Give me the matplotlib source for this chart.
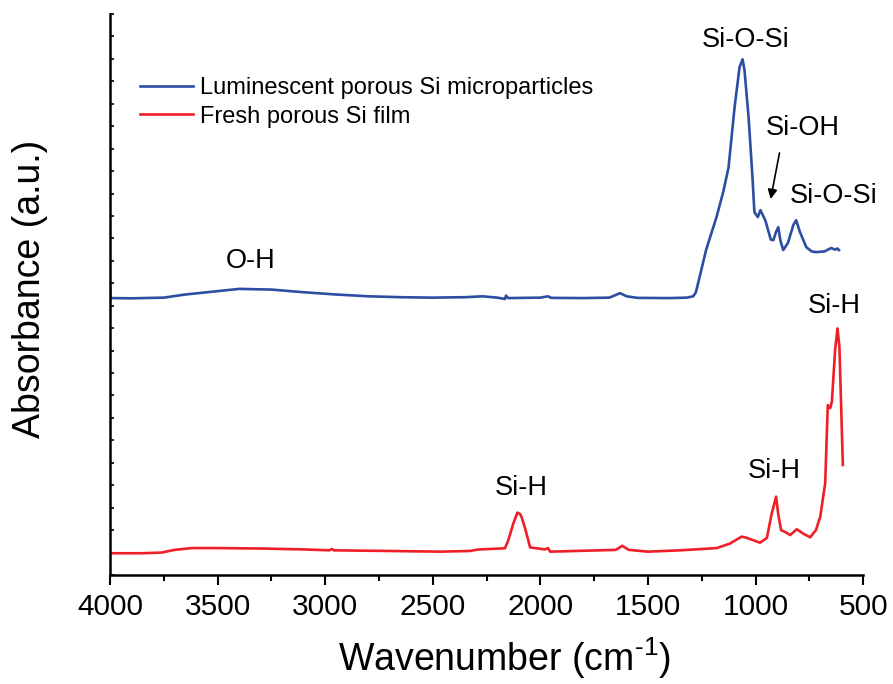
import matplotlib
matplotlib.use("Agg")
import matplotlib.pyplot as plt
import numpy as np

plt.rcParams['font.family'] = ['Liberation Sans', 'DejaVu Sans']
plt.rcParams['axes.unicode_minus'] = False

# Luminescent porous Si microparticles (blue)
blue_wn = [4000, 3998, 3900, 3750, 3650, 3550, 3400, 3250, 3100, 2950, 2800, 2650,
           2500, 2350, 2270, 2200, 2165, 2160, 2150, 2000, 1965, 1950, 1800, 1680,
           1630, 1600, 1550, 1400, 1320, 1290, 1278, 1265, 1230, 1182, 1150, 1126,
           1098, 1075, 1061, 1052, 1033, 1015, 1006, 990, 978, 955, 930, 918, 905,
           895, 885, 872, 850, 825, 812, 795, 765, 740, 719, 680, 650, 630, 620, 613]
blue_abs = [13.0, 12.34, 12.33, 12.36, 12.5, 12.6, 12.75, 12.72, 12.6, 12.5, 12.42, 12.38,
            12.36, 12.38, 12.42, 12.36, 12.3, 12.45, 12.34, 12.36, 12.42, 12.35, 12.34, 12.36,
            12.56, 12.42, 12.35, 12.34, 12.36, 12.42, 12.6, 13.1, 14.5, 15.95, 17.1, 18.17,
            20.85, 22.63, 22.98, 22.5, 20.4, 17.73, 16.17, 15.95, 16.26, 15.8, 14.95, 14.92, 15.3,
            15.5, 14.9, 14.48, 14.8, 15.6, 15.81, 15.3, 14.61, 14.42, 14.39, 14.42, 14.57, 14.5, 14.55, 14.48]

# Fresh porous Si film (red)
red_wn = [4000, 3850, 3760, 3700, 3620, 3500, 3300, 3100, 2980, 2970, 2960, 2700,
          2467, 2327, 2300, 2281, 2165, 2149, 2126, 2107, 2095, 2087, 2067, 2048,
          1979, 1965, 1955, 1723, 1650, 1620, 1590, 1500, 1350, 1181, 1120, 1065,
          1040, 980, 948, 925, 905, 896, 882, 860, 840, 809, 780, 747, 720, 700,
          677, 665, 654, 646, 631, 620, 611, 595]
red_abs = [0.97, 0.97, 1.0, 1.12, 1.2, 1.2, 1.18, 1.14, 1.1, 1.16, 1.1, 1.07,
           1.04, 1.07, 1.12, 1.14, 1.19, 1.56, 2.3, 2.78, 2.72, 2.57, 1.93, 1.23,
           1.14, 1.2, 1.04, 1.1, 1.12, 1.3, 1.12, 1.04, 1.1, 1.2, 1.4, 1.71,
           1.65, 1.44, 1.65, 2.76, 3.49, 2.76, 2.0, 1.9, 1.78, 2.04, 1.85, 1.68, 2.0, 2.6,
           4.1, 7.57, 7.43, 7.72, 10.02, 10.99, 10.17, 4.9]

series_labels = ["Luminescent porous Si microparticles", "Fresh porous Si film"]
x_ticks = [4000, 3500, 3000, 2500, 2000, 1500, 1000, 500]

# peak annotations: (text, wavenumber, absorbance baseline)
peak_labels = [("Si-O-Si", 1045, 23.53), ("Si-OH", 780, 19.6), ("Si-O-Si", 636, 16.56),
               ("Si-H", 636, 11.66), ("Si-H", 914, 4.31), ("Si-H", 2088, 3.56),
               ("O-H", 3345, 13.7)]

fig = plt.figure(figsize=(8.93, 6.84), dpi=100)
ax = fig.add_axes([110/893, 1-575/684, (863.3-110)/893, 561/684])

blue = '#2b4ea2'
red = '#ee1f26'
ax.plot(blue_wn, blue_abs, color=blue, lw=1.9, label=series_labels[0])
ax.plot(red_wn, red_abs, color=red, lw=1.9, label=series_labels[1])

ax.set_xlim(4000, 500)
ax.set_ylim(0, 25)
ax.set_xticks(x_ticks)
ax.set_xticks(np.arange(500, 4001, 250), minor=True)
ax.set_yticks(np.arange(0, 26, 1))
ax.set_yticklabels([])
ax.tick_params(axis='x', which='major', direction='out', length=7, width=1.5, labelsize=21.5, pad=6)
ax.tick_params(axis='x', which='minor', direction='out', length=4.5, width=1.5)
ax.tick_params(axis='y', which='major', direction='in', length=3, width=1.2)
for s in ['top', 'right']:
    ax.spines[s].set_visible(False)
for s in ['left', 'bottom']:
    ax.spines[s].set_linewidth(1.8)

for txt, wn, ab in peak_labels:
    ax.text(wn, ab, txt, ha='center', va='baseline', fontsize=19.5)

ax.annotate('', xy=(933, 16.63), xytext=(887, 18.93),
            arrowprops=dict(arrowstyle='-|>', color='black', lw=1.2, mutation_scale=14))

ax.set_xlabel('Wavenumber (cm$^{\\mathregular{\u20101}}$)', fontsize=27)
ax.xaxis.set_label_coords(0.523, -0.108)
ax.set_ylabel('Absorbance (a.u.)', fontsize=27)
ax.yaxis.set_label_coords(-0.082, 0.51)

leg = ax.legend(loc='upper left', bbox_to_anchor=(0.0398, 0.888), frameon=False,
                fontsize=17, handlelength=2.25, handletextpad=0.3, labelspacing=0.29,
                borderpad=0, borderaxespad=0)

fig.savefig('out.png', dpi=100)
